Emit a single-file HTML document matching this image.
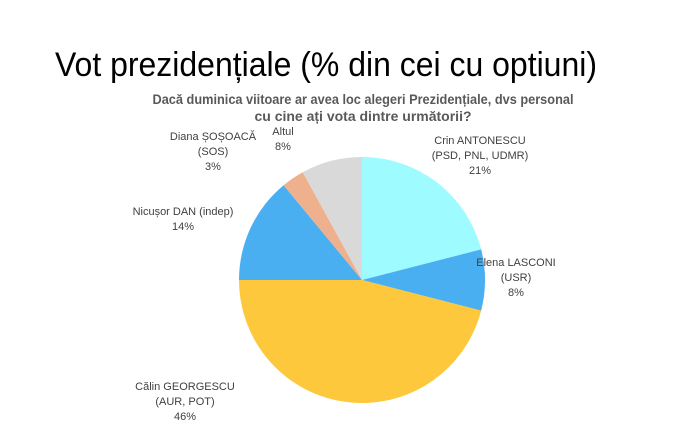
<!DOCTYPE html>
<html><head><meta charset="utf-8"><style>
html,body{margin:0;padding:0;background:#fff;}
svg{display:block;font-family:"Liberation Sans",sans-serif;}
</style></head><body>
<svg id="chart" width="700" height="428" viewBox="0 0 700 428">
<text x="55" y="76" font-size="34" fill="#000" textLength="542" lengthAdjust="spacingAndGlyphs">Vot prezidențiale (% din cei cu optiuni)</text>
<text x="363" y="104" font-size="14" font-weight="bold" fill="#595959" text-anchor="middle" textLength="421" lengthAdjust="spacingAndGlyphs">Dacă duminica viitoare ar avea loc alegeri Prezidențiale, dvs personal</text>
<text x="363" y="121" font-size="14" font-weight="bold" fill="#595959" text-anchor="middle">cu cine ați vota dintre următorii?</text>
<g id="slices"></g>
<g id="labels" font-size="11" fill="#404040" text-anchor="middle"></g>
</svg>
<script>
const categories = ["Crin ANTONESCU|(PSD, PNL, UDMR)", "Elena LASCONI|(USR)", "Călin GEORGESCU|(AUR, POT)", "Nicușor DAN (indep)", "Diana ȘOȘOACĂ|(SOS)", "Altul"];
const values = [21, 8, 46, 14, 3, 8];
const colors = ["#9EFBFF", "#4AAFF0", "#FDC83C", "#4AAFF0", "#EFB08E", "#D9D9D9"];
const labelPos = [[480,144],[516,266],[185,390],[183,215],[213,140],[283,135]];
const cx = 362, cy = 280, r = 123;
const total = values.reduce((a,b)=>a+b,0);
const NS = "http://www.w3.org/2000/svg";
const gS = document.getElementById('slices'), gL = document.getElementById('labels');
function pt(frac){const a = frac*2*Math.PI; return [cx + r*Math.sin(a), cy - r*Math.cos(a)];}
let acc = 0;
values.forEach((v,i)=>{
  const s = acc/total, e = (acc+v)/total; acc += v;
  const [x1,y1] = pt(s), [x2,y2] = pt(e);
  const p = document.createElementNS(NS,'path');
  p.setAttribute('d', `M${cx},${cy}L${x1},${y1}A${r},${r} 0 ${e-s>0.5?1:0} 1 ${x2},${y2}Z`);
  p.setAttribute('fill', colors[i]);
  
  
  gS.appendChild(p);
  const t = document.createElementNS(NS,'text');
  
  
  const lines = categories[i].split('|').concat([v + '%']);
  lines.forEach((ln,j)=>{
    const ts = document.createElementNS(NS,'tspan');
    ts.setAttribute('x', labelPos[i][0]);
    ts.setAttribute('y', labelPos[i][1] + j*15);
    ts.textContent = ln;
    t.appendChild(ts);
  });
  gL.appendChild(t);
});
</script>
</body></html>
